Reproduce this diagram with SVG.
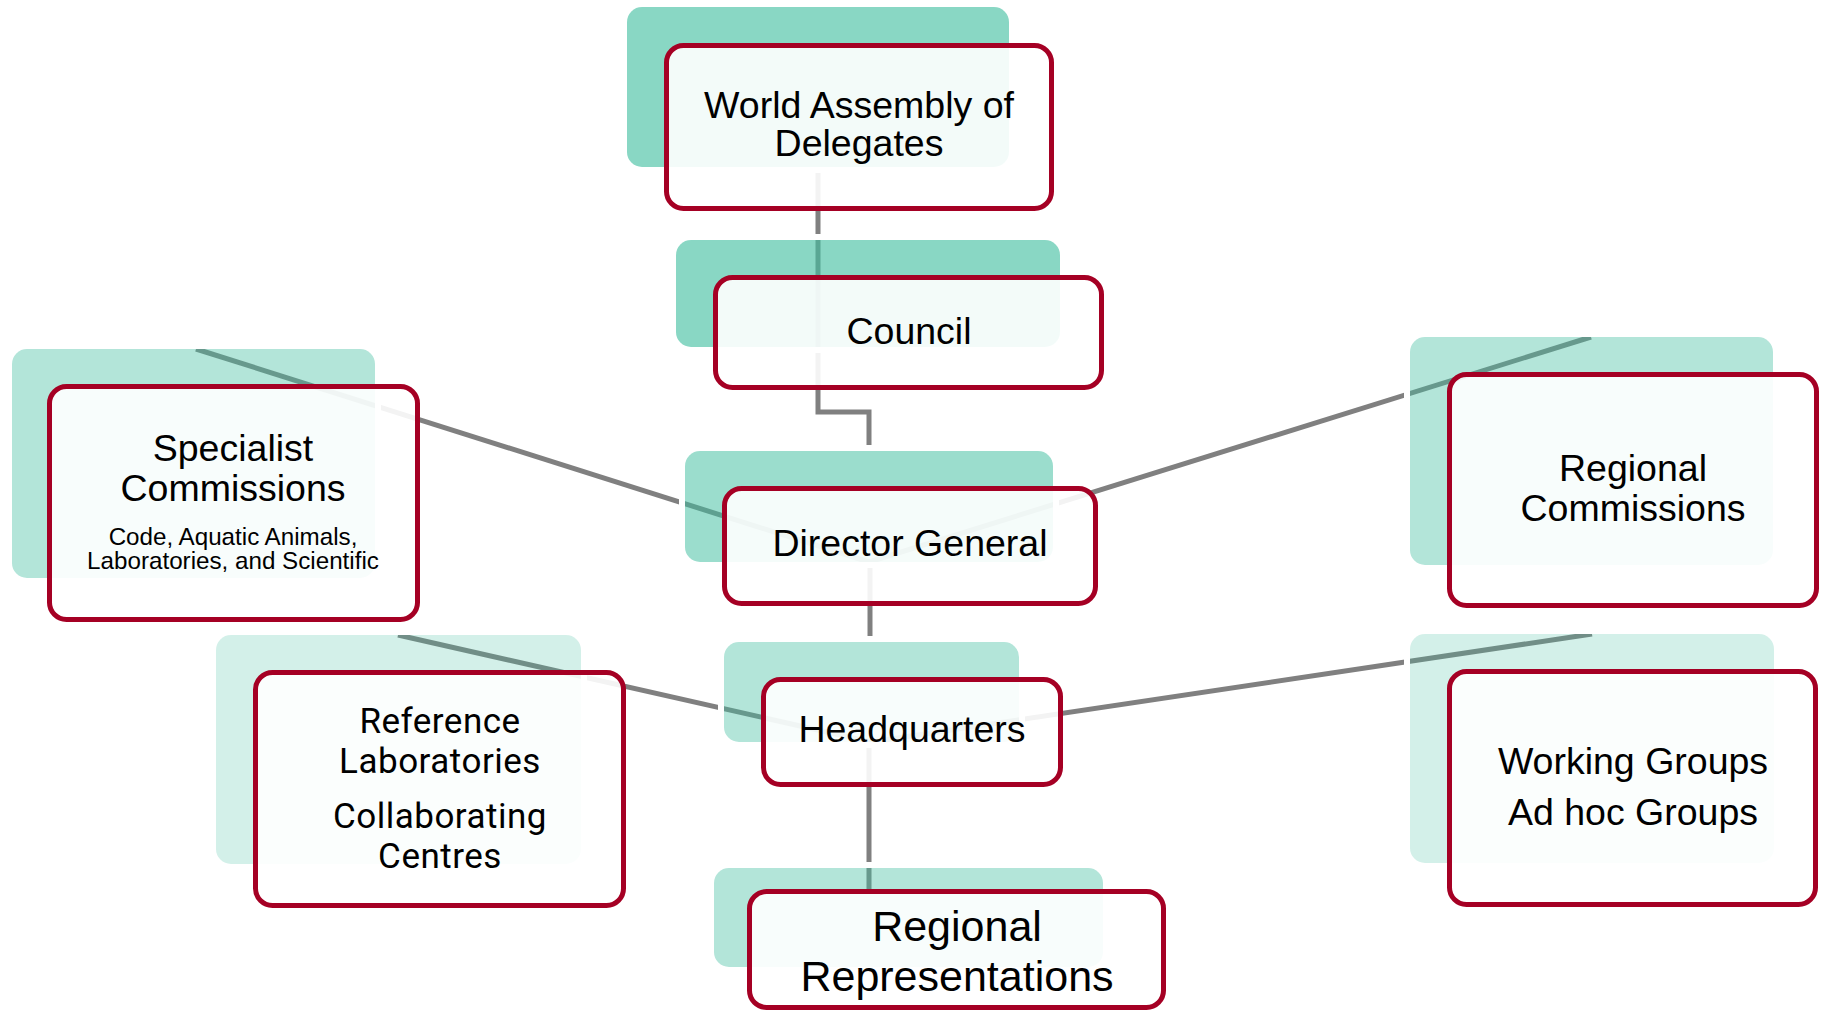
<svg xmlns="http://www.w3.org/2000/svg" width="1827" height="1011" viewBox="0 0 1827 1011">
<style>
.conn{fill:none;stroke:#808080;stroke-width:5}
.ring{fill:none;stroke:#fff;stroke-width:6}
.sh{fill:#40BEA0}
.box{fill:#fff;fill-opacity:.9;stroke:#A50024;stroke-width:5}
.t{font-family:"Liberation Sans",Arial,sans-serif;fill:#000;text-anchor:middle;font-size:37.5px}
.r{font-family:Roboto,"Liberation Sans",sans-serif;fill:#000;text-anchor:middle;font-size:35px;letter-spacing:0.5px}
</style>
<rect width="1827" height="1011" fill="#fff"/>
<g id="connectors">
<path class="conn" d="M818,168 V412 H869 V451"/>
<path class="conn" d="M869,562 L196,349"/>
<path class="conn" d="M869,562 L1591,337"/>
<path class="conn" d="M870,562 V642"/>
<path class="conn" d="M871,742 L398,635"/>
<path class="conn" d="M871,742 L1592,634"/>
<path class="conn" d="M869,742 V889"/>
</g>
<g id="world-assembly">
<rect class="ring" x="624" y="4" width="388" height="166" rx="18"/>
<rect class="sh" fill-opacity=".62" x="627" y="7" width="382" height="160" rx="15"/>
<rect class="box" x="666.5" y="45.5" width="385" height="163" rx="17"/>
<text class="t" x="859" y="118">World Assembly of</text>
<text class="t" x="859" y="156">Delegates</text>
</g>
<g id="council">
<rect class="ring" x="673" y="237" width="390" height="113" rx="18"/>
<rect class="sh" fill-opacity=".62" x="676" y="240" width="384" height="107" rx="15"/>
<rect class="box" x="715.5" y="277.5" width="386" height="110" rx="17"/>
<text class="t" x="909" y="344">Council</text>
</g>
<g id="director-general">
<rect class="ring" x="682" y="448" width="374" height="117" rx="18"/>
<rect class="sh" fill-opacity=".52" x="685" y="451" width="368" height="111" rx="15"/>
<rect class="box" x="724.5" y="488.5" width="371" height="115" rx="17"/>
<text class="t" x="910" y="556">Director General</text>
</g>
<g id="specialist-commissions">
<rect class="ring" x="9" y="346" width="369" height="235" rx="18"/>
<rect class="sh" fill-opacity=".40" x="12" y="349" width="363" height="229" rx="15"/>
<rect class="box" x="49.5" y="386.5" width="368" height="233" rx="17"/>
<text class="t" x="233" y="461">Specialist</text>
<text class="t" x="233" y="501">Commissions</text>
<text class="t" x="233" y="545" style="font-size:24.2px">Code, Aquatic Animals,</text>
<text class="t" x="233" y="569" style="font-size:24.2px">Laboratories, and Scientific</text>
</g>
<g id="regional-commissions">
<rect class="ring" x="1407" y="334" width="369" height="234" rx="18"/>
<rect class="sh" fill-opacity=".40" x="1410" y="337" width="363" height="228" rx="15"/>
<rect class="box" x="1449.5" y="374.5" width="367" height="231" rx="17"/>
<text class="t" x="1633" y="481">Regional</text>
<text class="t" x="1633" y="521">Commissions</text>
</g>
<g id="headquarters">
<rect class="ring" x="721" y="639" width="301" height="106" rx="18"/>
<rect class="sh" fill-opacity=".40" x="724" y="642" width="295" height="100" rx="15"/>
<rect class="box" x="763.5" y="679.5" width="297" height="105" rx="17"/>
<text class="t" x="912" y="742">Headquarters</text>
</g>
<g id="reference-laboratories">
<rect class="ring" x="213" y="632" width="371" height="235" rx="18"/>
<rect class="sh" fill-opacity=".23" x="216" y="635" width="365" height="229" rx="15"/>
<rect class="box" x="255.5" y="672.5" width="368" height="233" rx="17"/>
<text class="r" x="440" y="733">Reference</text>
<text class="r" x="440" y="773">Laboratories</text>
<text class="r" x="440" y="828">Collaborating</text>
<text class="r" x="440" y="868">Centres</text>
</g>
<g id="working-groups">
<rect class="ring" x="1407" y="631" width="370" height="235" rx="18"/>
<rect class="sh" fill-opacity=".23" x="1410" y="634" width="364" height="229" rx="15"/>
<rect class="box" x="1449.5" y="671.5" width="366" height="233" rx="17"/>
<text class="t" x="1633" y="774">Working Groups</text>
<text class="t" x="1633" y="825">Ad hoc Groups</text>
</g>
<g id="regional-representations">
<rect class="ring" x="711" y="865" width="395" height="105" rx="18"/>
<rect class="sh" fill-opacity=".40" x="714" y="868" width="389" height="99" rx="15"/>
<rect class="box" x="749.5" y="891.5" width="414" height="116" rx="17"/>
<text class="t" x="957" y="941" style="font-size:43px">Regional</text>
<text class="t" x="957" y="991" style="font-size:43px">Representations</text>
</g>
</svg>
